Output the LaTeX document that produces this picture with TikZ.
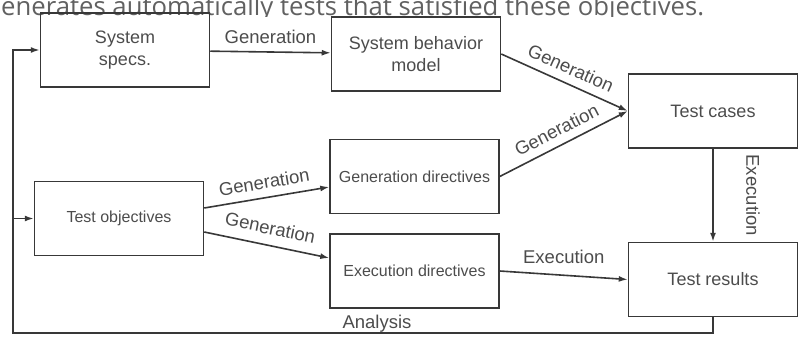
\documentclass[tikz,border=0pt]{standalone}
\usepackage{fontspec}
\setmainfont{Liberation Sans}
\newfontfamily\headfont{Open Sans}
\usepackage{xcolor}
\usepackage{tikz}
\usetikzlibrary{positioning,arrows.meta}

\definecolor{linegray}{gray}{0.22}
\definecolor{textgray}{gray}{0.30}

\begin{document}
\begin{tikzpicture}[x=1pt, y=-1pt,
      node distance = 19pt and 20pt,
      block/.style = {rectangle, draw=linegray, line width=1.5pt,
                      align=center, minimum height=74pt,
                      minimum width=169pt, text=textgray,
                      font=\fontsize{18}{22.5}\selectfont},
      small/.style = {font=\fontsize{16}{19}\selectfont},
      arrow/.style = {-{Latex[length=9pt,width=6pt]}, draw=linegray,
                      line width=1.6pt},
      lbl/.style   = {text=textgray, inner sep=8pt,
                      font=\fontsize{18.5}{22}\selectfont}
    ]
    \useasboundingbox (0,0) rectangle (798,340);
    \begin{scope}
      \clip (0,0) rectangle (798,16.5);
      \node[anchor=base west, inner sep=0pt, text=black!62,
            font=\headfont\fontsize{25.7}{30}\selectfont] (head) at (1,15)
            {enerates automatically tests that satisfied these objectives.};
    \end{scope}

    \node[block]                 (specs)  at (125,50)    {System\\specs.};
    \node[block]                 (model)  at (416,54)    {System behavior\\model};
    \node[block]                 (cases)  at (713,111)   {Test cases};
    \node[block, small]          (obj)    at (119,218.5) {Test objectives};
    \node[block, small]          (gendir) at (414.5,176.5) {Generation directives};
    \node[block, small, below=of gendir] (exedir) {Execution directives};
    \node[block, below=93pt of cases]    (results) {Test results};
    \coordinate (fb) at (13,333);

    \draw[arrow] (specs)  -- node[lbl, above] {Generation} (model);
    \draw[arrow] (model.east) -- node[lbl, above, sloped] {Generation} (cases.west);
    \draw[arrow] (gendir.east) -- node[lbl, above, sloped] {Generation} (cases.west);
    \draw[arrow] ([yshift=10.5pt]obj.east) -- node[lbl, above, sloped] {Generation}
                 ([yshift=-10.5pt]gendir.west);
    \draw[arrow] ([yshift=-13.5pt]obj.east) -- node[lbl, above, sloped, inner sep=10pt]
                 {Generation} ([yshift=13pt]exedir.west);
    \draw[arrow] (exedir.east) -- node[lbl, above, inner sep=11pt] {Execution} (results.west);
    \draw[arrow] (cases) -- node[lbl, xshift=40pt, rotate=-90] {Execution} (results);
    \draw[arrow] (results.south) |- node[lbl, pos=0.74, above, inner sep=0pt] {Analysis} (fb)
                 |- (specs.west);
    \draw[arrow] (fb |- obj.west) -- (obj.west);
  \end{tikzpicture}
\end{document}
